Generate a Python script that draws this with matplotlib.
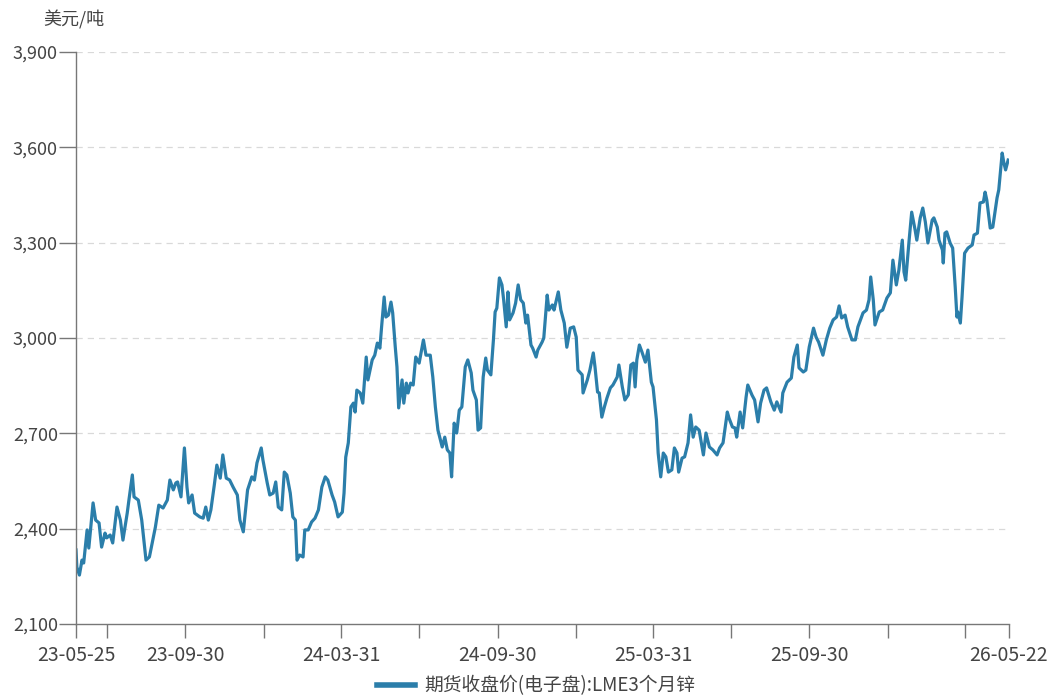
import matplotlib
matplotlib.use("Agg")
import matplotlib.pyplot as plt
import pandas as pd

plt.rcParams['font.family'] = ['Noto Sans CJK SC', 'DejaVu Sans']

start = pd.Timestamp("2023-05-25")
end = pd.Timestamp("2026-05-22")

# days after 2023-05-25
days = [
    0, 1, 4, 7, 9, 13, 15, 20, 23, 27, 30, 34, 36, 40, 43, 48, 52, 55, 60, 62,
    66, 68, 73, 77, 82, 86, 93, 97, 102, 107, 110, 114, 117, 119, 123, 127, 130, 132, 136, 139,
    145, 149, 152, 155, 158, 162, 165, 169, 172, 176, 180, 184, 189, 192, 196,
    201, 206, 209, 212, 217, 219, 224, 227, 231, 234, 237, 241, 244, 247, 251, 254, 257, 259,
    262, 266, 268, 272, 276, 280, 284, 288, 292, 295, 300, 303, 307, 312, 314, 316, 319, 322,
    325, 327, 329, 333, 336, 340, 342, 347, 350, 353, 356, 358, 361, 363, 366, 369, 371, 374,
    376, 378, 382, 384, 387, 389, 392, 395,
    398, 402, 407, 410, 415, 418, 421, 424, 429, 432, 435, 438, 440, 443, 446, 449, 452, 456,
    459, 463, 465, 469, 471, 474, 477, 480, 482, 486, 489, 491, 493, 496, 499, 501, 504, 506,
    508, 512, 515, 518, 521, 524, 527, 529, 533, 535, 539, 541, 546, 548, 552, 554, 558, 560,
    565, 568, 572, 575, 579, 583, 586, 588, 593, 594, 599,
    602, 606, 608, 611, 613, 616, 619, 622, 626, 629, 634, 636, 640, 643, 647, 650, 653, 655,
    657, 660, 663, 667, 670, 674, 676, 680, 682, 685, 688, 691, 694, 698, 701, 704, 706, 710,
    713, 717, 720, 723, 726, 730, 732, 735, 738, 742, 746, 751, 754, 758, 763, 765, 769, 772,
    774, 778, 781, 785, 787, 792, 795, 799,
    802, 806, 809, 814, 818, 821, 826, 828, 833, 838, 841, 845, 847, 852, 855, 859, 864, 867,
    870, 875, 879, 883, 887, 891, 894, 897, 901, 904, 909, 913, 916, 922, 926, 929, 931, 934,
    936, 941, 945, 950, 954, 957, 961, 964, 968, 970, 972, 976,
    979, 983, 985, 989, 992, 995, 998, 1003, 1005, 1009, 1011, 1015, 1016, 1018, 1020, 1024,
    1027, 1030, 1032, 1033, 1036, 1038, 1041, 1045, 1050, 1052, 1056, 1059, 1063, 1065, 1067,
    1071, 1074, 1079, 1081, 1085, 1087, 1089, 1092,
]

prices = [
    2333, 2279, 2254, 2301, 2292, 2396, 2339, 2481, 2427, 2418, 2342, 2386, 2371, 2380, 2355, 2468, 2427, 2364, 2449, 2490,
    2569, 2500, 2490, 2427, 2301, 2311, 2405, 2474, 2465, 2490, 2553, 2522, 2544, 2547, 2500, 2654, 2531, 2481, 2506, 2449,
    2437, 2433, 2468, 2427, 2459, 2537, 2600, 2559, 2632, 2559, 2553, 2531, 2506, 2427, 2390,
    2522, 2563, 2553, 2607, 2654, 2616, 2544, 2506, 2512, 2547, 2468, 2459, 2578, 2569, 2512, 2437, 2427, 2301,
    2317, 2311, 2396, 2396, 2421, 2433, 2459, 2531, 2563, 2553, 2506, 2484, 2437, 2452, 2512, 2625, 2670, 2783,
    2795, 2767, 2836, 2827, 2795, 2940, 2868, 2931, 2946, 2984, 2968, 3035, 3129, 3066, 3072, 3113, 3079, 2972,
    2909, 2780, 2868, 2795, 2858, 2827, 2858, 2852,
    2940, 2921, 2994, 2946, 2946, 2877, 2783, 2710, 2657, 2688, 2648, 2638, 2563, 2732, 2701, 2773, 2783, 2909,
    2931, 2890, 2836, 2805, 2710, 2717, 2877, 2937, 2899, 2884, 2994, 3082, 3094, 3189, 3167, 3120, 3035, 3145,
    3057, 3079, 3110, 3167, 3120, 3110, 3047, 3072, 2978, 2968, 2940, 2962, 2987, 3000, 3135, 3088, 3104, 3088,
    3145, 3088, 3047, 2971, 3031, 3035, 3003, 2899, 2884, 2827, 2868,
    2899, 2953, 2909, 2830, 2827, 2751, 2783, 2811, 2843, 2852, 2877, 2915, 2846, 2805, 2821, 2915, 2921, 2846,
    2931, 2978, 2956, 2924, 2962, 2861, 2846, 2742, 2638, 2563, 2638, 2626, 2578, 2585, 2654, 2638, 2578, 2622,
    2626, 2670, 2758, 2688, 2720, 2710, 2679, 2632, 2701, 2657, 2648, 2632, 2654, 2670, 2767, 2748, 2720, 2717,
    2688, 2767, 2717, 2814, 2852, 2820, 2805, 2736,
    2795, 2836, 2843, 2799, 2773, 2799, 2767, 2827, 2861, 2874, 2940, 2978, 2906, 2893, 2899, 2972, 3031, 3003,
    2987, 2946, 2994, 3031, 3057, 3066, 3101, 3063, 3072, 3035, 2994, 2994, 3035, 3079, 3088, 3120, 3192, 3120,
    3041, 3082, 3088, 3126, 3142, 3245, 3167, 3214, 3308, 3208, 3182, 3308,
    3396, 3340, 3308, 3378, 3409, 3365, 3299, 3371, 3378, 3349, 3308, 3277, 3236, 3330, 3334, 3299,
    3283, 3160, 3066, 3082, 3047, 3129, 3267, 3283, 3293, 3324, 3330, 3425, 3428, 3459, 3434,
    3346, 3349, 3441, 3466, 3582, 3551, 3529, 3560,
]

tick_dates = ["2023-05-25", "2023-06-30", "2023-09-30", "2023-12-31", "2024-03-31",
              "2024-06-30", "2024-09-30", "2024-12-31", "2025-03-31", "2025-06-30",
              "2025-09-30", "2025-12-31", "2026-03-31", "2026-05-22"]
tick_labels = ["23-05-25", "", "23-09-30", "", "24-03-31", "", "24-09-30", "",
               "25-03-31", "", "25-09-30", "", "", "26-05-22"]
y_ticks = [2100, 2400, 2700, 3000, 3300, 3600, 3900]

dates = start + pd.to_timedelta(days, unit="D")

fig = plt.figure(figsize=(10.54, 6.99), dpi=100)
ax = fig.add_axes([76 / 1054, 1 - 624 / 699, (1009 - 76) / 1054, (624 - 52) / 699])

line_color = "#2b7eaa"
axis_color = "#777777"
text_color = "#444444"

ax.plot(dates, prices, color=line_color, linewidth=2.3, solid_joinstyle="round",
        label="期货收盘价(电子盘):LME3个月锌")

ax.set_xlim(start, end)
ax.set_ylim(2100, 3900)
ax.set_yticks(y_ticks)
ax.set_yticklabels([f"{v:,}" for v in y_ticks])
ax.set_xticks(pd.to_datetime(tick_dates))
ax.set_xticklabels(tick_labels)

for v in y_ticks[1:]:
    ax.axhline(v, color="#d9d9d9", linewidth=0.9, linestyle=(0, (5, 4)), zorder=0)

for side in ["top", "right"]:
    ax.spines[side].set_visible(False)
for side in ["left", "bottom"]:
    ax.spines[side].set_color(axis_color)
    ax.spines[side].set_linewidth(1.0)

ax.tick_params(axis="y", length=12, width=1.0, color=axis_color, pad=1,
               labelsize=13, labelcolor=text_color)
ax.tick_params(axis="x", length=10, width=1.0, color=axis_color, pad=5,
               labelsize=14, labelcolor=text_color)

fig.text(43 / 1054, 1 - 20 / 699, "美元/吨", fontsize=13, color=text_color,
         ha="left", va="center")

fig.legend(loc="center", bbox_to_anchor=(536 / 1054, 1 - 686 / 699), frameon=False,
           fontsize=13.5, handlelength=2.0, handletextpad=0.5, labelcolor=text_color)
for h in fig.legends[0].get_lines():
    h.set_linewidth(4)

fig.savefig("out.png", dpi=100)
